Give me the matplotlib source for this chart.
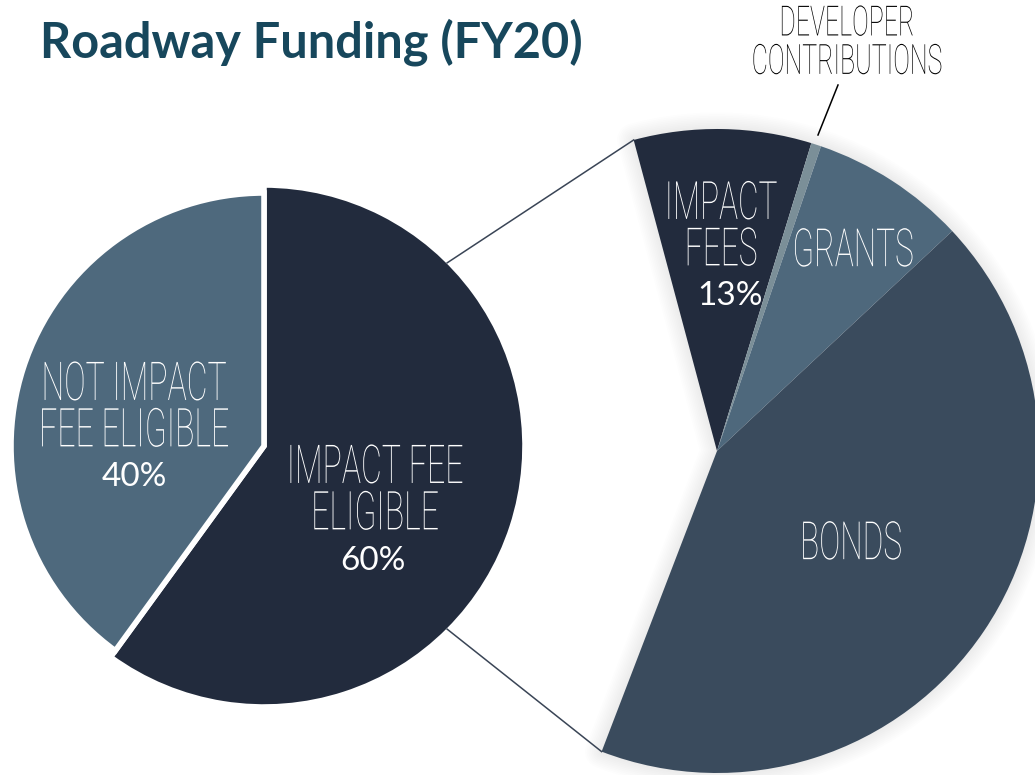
import matplotlib
matplotlib.use("Agg")
import matplotlib.pyplot as plt
from matplotlib.patches import Wedge
from matplotlib.patheffects import AbstractPathEffect
from matplotlib.transforms import Affine2D
import numpy as np

# Left pie: impact fee eligibility
left_labels = ["IMPACT FEE\nELIGIBLE", "NOT IMPACT\nFEE ELIGIBLE"]
left_values = [60, 40]
left_pcts = ["60%", "40%"]
left_colors = ["#222b3d", "#4e697d"]

# Right pie: breakdown of the eligible share (share of total funding)
right_labels = ["IMPACT\nFEES", "DEVELOPER\nCONTRIBUTIONS", "GRANTS", "BONDS"]
right_values = [8.9, 0.5, 7.8, 42.8]
right_pcts = ["13%", "", "", ""]
right_colors = ["#222b3d", "#7b8f98", "#4e687c", "#3a4b5d"]

W, H = 1035, 775


class Stretch(AbstractPathEffect):
    # stretches glyphs vertically around the text anchor (condensed look)
    def __init__(self, ax, x, y, sy):
        super().__init__()
        self.ax, self.x, self.y, self.sy = ax, x, y, sy

    def draw_path(self, renderer, gc, tpath, affine, rgbFace=None):
        cx, cy = self.ax.transData.transform((self.x, self.y))
        t = affine + Affine2D().translate(-cx, -cy).scale(1, self.sy).translate(cx, cy)
        renderer.draw_path(gc, tpath, t, rgbFace)


def cond(ax, x, y, s, size, color="white", k=0.6):
    ax.text(x, H - y, s, ha="center", va="center", fontsize=size * k, color=color,
            family=["Roboto", "DejaVu Sans"], weight="light", linespacing=0.95,
            path_effects=[Stretch(ax, x, H - y, 1 / k)])


fig = plt.figure(figsize=(W / 100, H / 100), dpi=100)
ax = fig.add_axes([0, 0, 1, 1])

# left pie
lc = (264, H - 446)
lw, _ = ax.pie(left_values, colors=left_colors, startangle=90, counterclock=False,
               center=lc, radius=261,
               wedgeprops=dict(edgecolor="white", linewidth=4))
lw[1].set_radius(253)

# right pie with the not-eligible part left empty
rc = (717, H - 451)
R = 322
start = 105
total = sum(right_values) + left_values[1]
span = 360 * sum(right_values) / total

# soft glow behind the right pie
for w in np.arange(24, 0, -2.5):
    ax.add_patch(Wedge(rc, R, start - span, start, fc="none", ec="black",
                       lw=w, alpha=0.008, joinstyle="round", zorder=0))

ax.pie(right_values + [left_values[1]], colors=right_colors + ["none"],
       startangle=start, counterclock=False, center=rc, radius=R,
       wedgeprops=dict(linewidth=0))

# connector lines between the two pies
for a_left, a_right in [(45, start), (-45, start - span)]:
    p1 = (lc[0] + 259 * np.cos(np.radians(a_left)), lc[1] + 259 * np.sin(np.radians(a_left)))
    p2 = (rc[0] + R * np.cos(np.radians(a_right)), rc[1] + R * np.sin(np.radians(a_right)))
    ax.plot([p1[0], p2[0]], [p1[1], p2[1]], color="#3a4556", lw=1.1, zorder=1)

# labels
cond(ax, 375, 492, left_labels[0], 38.5)
ax.text(373, H - 561, left_pcts[0], ha="center", va="center", fontsize=24,
        color="white", family=["Lato", "DejaVu Sans"])
cond(ax, 134, 409, left_labels[1], 38.5)
ax.text(134, H - 477, left_pcts[1], ha="center", va="center", fontsize=24,
        color="white", family=["Lato", "DejaVu Sans"])

cond(ax, 721, 228, right_labels[0], 38)
ax.text(730, H - 296, right_pcts[0], ha="center", va="center", fontsize=24,
        color="white", family=["Lato", "DejaVu Sans"])
cond(ax, 847, 43, right_labels[1], 30, color="black")
ax.plot([838, 818], [H - 85, H - 135], color="black", lw=1.1)
cond(ax, 853, 252, right_labels[2], 38)
cond(ax, 851, 545, right_labels[3], 38)

ax.text(40, H - 57, "Roadway Funding (FY20)", ha="left", va="baseline",
        fontsize=35, fontweight="bold", color="#17475c",
        family=["Lato", "DejaVu Sans"])

ax.set_xlim(0, W)
ax.set_ylim(0, H)
ax.set_aspect("equal")
ax.axis("off")

fig.savefig("out.png", dpi=100)
